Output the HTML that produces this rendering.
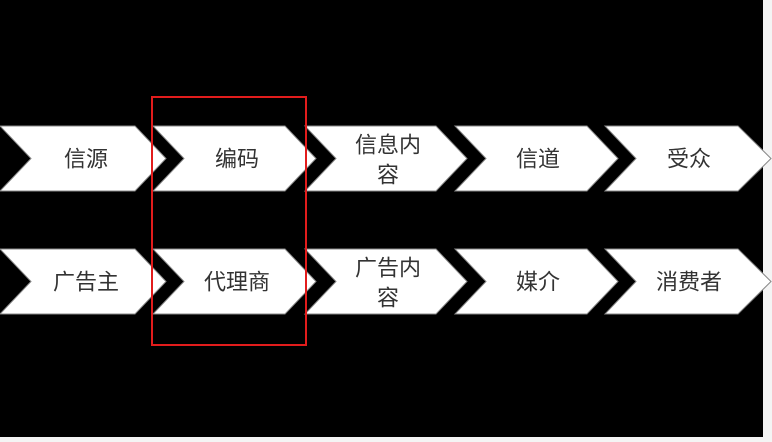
<!DOCTYPE html>
<html><head><meta charset="utf-8"><style>
html,body{margin:0;padding:0;background:#f4f4f4;}
svg{display:block}
text{font-family:"Liberation Sans","Noto Sans CJK SC",sans-serif;font-size:22px;fill:#333;text-anchor:middle;dominant-baseline:central}
</style></head><body>
<svg width="772" height="442" viewBox="0 0 772 442">
<rect x="0" y="0" width="763" height="437" fill="#000"/>
<g fill="#fff" stroke="#888" stroke-width="1">
<polygon points="0,126 135,126 166,158.5 135,191 0,191 31,158.5"/>
<polygon points="153,126 285,126 316,158.5 285,191 153,191 184,158.5"/>
<polygon points="305,126 436,126 467,158.5 436,191 305,191 336,158.5"/>
<polygon points="455,126 587,126 618,158.5 587,191 455,191 486,158.5"/>
<polygon points="605,126 738,126 771,158.5 738,191 605,191 636,158.5"/>
<polygon points="0,249 135,249 166,281.5 135,314 0,314 31,281.5"/>
<polygon points="153,249 285,249 316,281.5 285,314 153,314 184,281.5"/>
<polygon points="305,249 436,249 467,281.5 436,314 305,314 336,281.5"/>
<polygon points="455,249 587,249 618,281.5 587,314 455,314 486,281.5"/>
<polygon points="605,249 738,249 771,281.5 738,314 605,314 636,281.5"/>
</g>
<text x="86" y="159">信源</text>
<text x="237" y="159">编码</text>
<text x="388" y="145">信息内</text>
<text x="388" y="175">容</text>
<text x="538" y="159">信道</text>
<text x="689" y="159">受众</text>
<text x="86" y="282">广告主</text>
<text x="237" y="282">代理商</text>
<text x="388" y="268">广告内</text>
<text x="388" y="298">容</text>
<text x="538" y="282">媒介</text>
<text x="689" y="282">消费者</text>
<rect x="152" y="97" width="154" height="248" fill="none" stroke="#e21c1c" stroke-width="2"/>
</svg>
</body></html>
